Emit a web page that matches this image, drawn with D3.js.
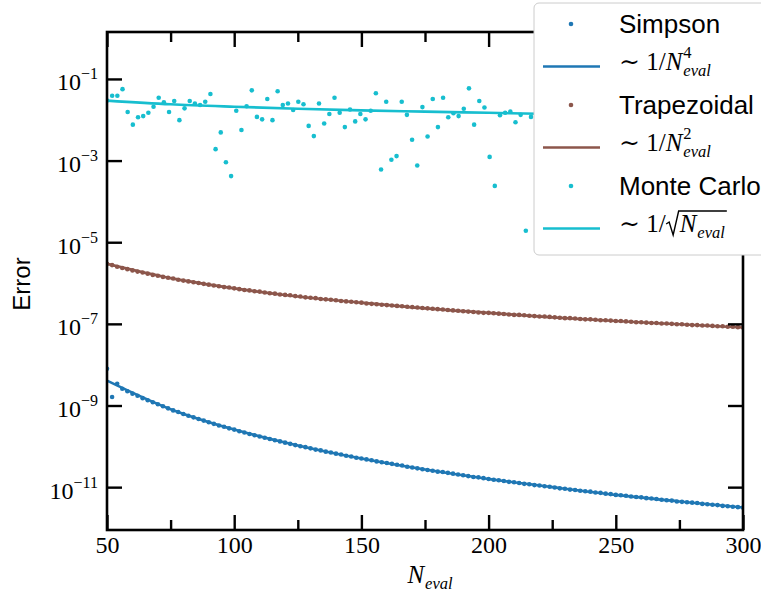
<!DOCTYPE html>
<html>
<head>
<meta charset="utf-8">
<script src="https://cdn.jsdelivr.net/npm/d3@7/dist/d3.min.js"></script>
<style>
  body { margin: 0; background: #fff; }
  .axis text { font-family: "Liberation Serif", "DejaVu Serif", serif; fill: #000; }
</style>
</head>
<body>
<svg id="chart" width="761" height="592"></svg>
<script>
// N_eval grid for the two quadrature rules (even N from 50 to 300)
var nEval = d3.range(50, 301, 2);

// log10(error)
var simpsonLogErr = [
  -8.10, -8.79, -8.47, -8.59, -8.65, -8.71, -8.76, -8.82, -8.87, -8.92,
  -8.97, -9.02, -9.07, -9.12, -9.16, -9.21, -9.25, -9.29, -9.33, -9.37,
  -9.41, -9.45, -9.49, -9.52, -9.56, -9.59, -9.63, -9.66, -9.70, -9.73,
  -9.76, -9.79, -9.82, -9.85, -9.88, -9.91, -9.94, -9.97, -10.00, -10.02,
  -10.05, -10.08, -10.10, -10.13, -10.15, -10.18, -10.20, -10.23, -10.25, -10.28,
  -10.30, -10.32, -10.34, -10.37, -10.39, -10.41, -10.43, -10.45, -10.47, -10.50,
  -10.52, -10.54, -10.56, -10.58, -10.60, -10.62, -10.63, -10.65, -10.67, -10.69,
  -10.71, -10.73, -10.75, -10.76, -10.78, -10.80, -10.82, -10.83, -10.85, -10.87,
  -10.88, -10.90, -10.92, -10.93, -10.95, -10.96, -10.98, -10.99, -11.01, -11.03,
  -11.04, -11.06, -11.07, -11.09, -11.10, -11.11, -11.13, -11.14, -11.16, -11.17,
  -11.19, -11.20, -11.21, -11.23, -11.24, -11.25, -11.27, -11.28, -11.29, -11.31,
  -11.32, -11.33, -11.35, -11.36, -11.37, -11.38, -11.39, -11.41, -11.42, -11.43,
  -11.44, -11.46, -11.47, -11.48, -11.49, -11.50
];

var trapezoidalLogErr = [
  -5.53, -5.56, -5.60, -5.63, -5.66, -5.69, -5.72, -5.74, -5.77, -5.80,
  -5.82, -5.85, -5.87, -5.89, -5.92, -5.94, -5.96, -5.98, -6.00, -6.02,
  -6.04, -6.06, -6.08, -6.10, -6.11, -6.13, -6.15, -6.17, -6.18, -6.20,
  -6.21, -6.23, -6.25, -6.26, -6.28, -6.29, -6.30, -6.32, -6.33, -6.35,
  -6.36, -6.37, -6.39, -6.40, -6.41, -6.42, -6.44, -6.45, -6.46, -6.47,
  -6.48, -6.50, -6.51, -6.52, -6.53, -6.54, -6.55, -6.56, -6.57, -6.58,
  -6.59, -6.60, -6.61, -6.62, -6.63, -6.64, -6.65, -6.66, -6.67, -6.68,
  -6.69, -6.70, -6.71, -6.72, -6.73, -6.73, -6.74, -6.75, -6.76, -6.77,
  -6.78, -6.78, -6.79, -6.80, -6.81, -6.82, -6.82, -6.83, -6.84, -6.85,
  -6.86, -6.86, -6.87, -6.88, -6.89, -6.89, -6.90, -6.91, -6.91, -6.92,
  -6.93, -6.93, -6.94, -6.95, -6.96, -6.96, -6.97, -6.98, -6.98, -6.99,
  -6.99, -7.00, -7.01, -7.01, -7.02, -7.03, -7.03, -7.04, -7.04, -7.05,
  -7.06, -7.06, -7.07, -7.07, -7.08, -7.09
];

// Monte Carlo samples (the ones not hidden behind the legend)
var mcN = d3.range(83).map(function (i) { return 50 + i * 250 / 123; });
var mcLogErr = [
  -1.53, -1.41, -1.41, -1.25, -1.81, -2.12, -1.94, -1.91, -1.83, -1.68,
  -1.46, -1.57, -1.81, -1.54, -2.01, -1.72, -1.54, -1.60, -1.64, -1.56,
  -1.37, -2.72, -2.31, -3.04, -3.38, -1.78, -2.25, -1.67, -1.28, -1.93,
  -1.99, -1.49, -2.01, -1.30, -1.64, -1.60, -1.76, -1.56, -1.62, -2.15,
  -2.40, -1.60, -2.09, -1.86, -1.46, -1.83, -2.18, -1.75, -2.04, -1.86,
  -1.99, -1.78, -1.35, -3.22, -1.56, -2.98, -2.89, -1.56, -1.88, -2.49,
  -3.12, -1.69, -2.41, -1.49, -2.18, -1.46, -1.94, -1.84, -1.91, -1.73,
  -1.23, -2.12, -1.54, -1.70, -2.91, -3.62, -1.89, -1.83, -1.80, -2.06,
  -1.88, -4.72, -1.93
];

// fitted power-law lines, read at these N
var fitN = [50, 75, 100, 125, 150, 175, 200, 225, 250, 275, 300];
var simpsonFitLog = [-8.39, -9.09, -9.59, -9.98, -10.30, -10.57, -10.80, -11.00, -11.19, -11.35, -11.50];
var trapezoidalFitLog = [-5.53, -5.88, -6.13, -6.33, -6.48, -6.62, -6.73, -6.84, -6.93, -7.01, -7.09];
var mcFitLog = [-1.53, -1.62, -1.68, -1.73, -1.77, -1.80, -1.83, -1.86, -1.88, -1.90, -1.92];

var xTicks = [50, 100, 150, 200, 250, 300];
var xMinorTicks = [75, 125, 175, 225, 275];
var yTickExp = [-1, -3, -5, -7, -9, -11];

var colors = {simpson: "#1f77b4", trap: "#8c564b", mc: "#17becf"};

(function ErrorChart() {
  var svg = d3.select("#chart");
  var pLeft = 107, pRight = 743, pTop = 32, pBottom = 530;

  var x = d3.scaleLinear().domain([50, 300]).range([pLeft, pRight]);
  var y = d3.scaleLog().domain([Math.pow(10, -12.05), Math.pow(10, 0.15)]).range([pBottom, pTop]);
  function p10(v) { return Math.pow(10, v); }

  svg.append("defs").append("clipPath").attr("id", "clip")
    .append("rect").attr("x", pLeft).attr("y", pTop)
    .attr("width", pRight - pLeft).attr("height", pBottom - pTop);

  var plot = svg.append("g").attr("clip-path", "url(#clip)");

  function dots(ns, vals, color) {
    plot.append("g").selectAll("circle")
      .data(ns.map(function (n, i) { return [n, vals[i]]; }))
      .enter().append("circle")
        .attr("cx", function (d) { return x(d[0]); })
        .attr("cy", function (d) { return y(p10(d[1])); })
        .attr("r", 2.3)
        .attr("fill", color);
  }
  var line = d3.line()
    .x(function (d) { return x(d[0]); })
    .y(function (d) { return y(p10(d[1])); })
    .curve(d3.curveMonotoneX);
  function fit(vals, color) {
    plot.append("path")
      .datum(fitN.map(function (n, i) { return [n, vals[i]]; }))
      .attr("d", line)
      .attr("fill", "none")
      .attr("stroke", color)
      .attr("stroke-width", 2.6);
  }

  dots(nEval, simpsonLogErr, colors.simpson);
  fit(simpsonFitLog, colors.simpson);
  dots(nEval, trapezoidalLogErr, colors.trap);
  fit(trapezoidalFitLog, colors.trap);
  dots(mcN, mcLogErr, colors.mc);
  fit(mcFitLog, colors.mc);

  // axes: ticks pointing in on all four sides
  var yTickVals = yTickExp.map(p10);
  function styleAxis(g) {
    g.select(".domain").remove();
    g.selectAll(".tick line").attr("stroke", "#000").attr("stroke-width", 2.4);
  }

  var gBottom = svg.append("g").attr("class", "axis")
    .attr("transform", "translate(0," + pBottom + ")")
    .call(d3.axisBottom(x).tickValues(xTicks).tickSize(-15).tickFormat(d3.format("d")));
  styleAxis(gBottom);
  gBottom.selectAll(".tick text").attr("y", 23).attr("dy", 0).style("font-size", "24px");

  svg.append("g").attr("class", "axis")
    .attr("transform", "translate(0," + pBottom + ")")
    .call(d3.axisBottom(x).tickValues(xMinorTicks).tickSize(-10).tickFormat(""))
    .call(styleAxis);

  svg.append("g").attr("class", "axis")
    .attr("transform", "translate(0," + pTop + ")")
    .call(d3.axisTop(x).tickValues(xTicks).tickSize(-15).tickFormat(""))
    .call(styleAxis);
  svg.append("g").attr("class", "axis")
    .attr("transform", "translate(0," + pTop + ")")
    .call(d3.axisTop(x).tickValues(xMinorTicks).tickSize(-10).tickFormat(""))
    .call(styleAxis);

  var gLeft = svg.append("g").attr("class", "axis")
    .attr("transform", "translate(" + pLeft + ",0)")
    .call(d3.axisLeft(y).tickValues(yTickVals).tickSize(-15).tickFormat(""));
  styleAxis(gLeft);
  gLeft.selectAll(".tick text").each(function (d, i) {
    var t = d3.select(this).attr("x", -9).attr("y", 11).attr("dy", 0)
      .attr("text-anchor", "end").text(null);
    t.append("tspan").style("font-size", "24px").text("10");
    t.append("tspan").style("font-size", "16px").attr("dy", -11)
      .text("\u2212" + Math.abs(yTickExp[i]));
  });

  svg.append("g").attr("class", "axis")
    .attr("transform", "translate(" + pRight + ",0)")
    .call(d3.axisRight(y).tickValues(yTickVals).tickSize(-15).tickFormat(""))
    .call(styleAxis);

  // frame
  svg.append("rect")
    .attr("x", pLeft).attr("y", pTop)
    .attr("width", pRight - pLeft).attr("height", pBottom - pTop)
    .attr("fill", "none").attr("stroke", "#000").attr("stroke-width", 2.6);

  // axis titles
  svg.append("text")
    .attr("transform", "translate(30,284) rotate(-90)")
    .attr("text-anchor", "middle")
    .style("font-family", "Liberation Sans, Arial, sans-serif")
    .style("font-size", "24px")
    .text("Error");

  // N with an "eval" subscript (and optional power above it)
  function nEvalLabel(g, x0, base, size, sup, anchorMid) {
    var small = size * 0.66;
    var n = g.append("text").attr("x", x0).attr("y", base)
      .style("font-family", "Liberation Serif, serif").style("font-style", "italic")
      .style("font-size", size + "px").text("N");
    var wn = n.node().getComputedTextLength();
    var sub = g.append("text").attr("x", x0 + wn + 1).attr("y", base + 6)
      .style("font-family", "Liberation Serif, serif").style("font-style", "italic")
      .style("font-size", small + "px").text("eval");
    if (sup) {
      g.append("text").attr("x", x0 + wn + 1).attr("y", base - 12)
        .style("font-family", "Liberation Serif, serif")
        .style("font-size", small + "px").text(sup);
    }
    var end = x0 + wn + 1 + sub.node().getComputedTextLength();
    if (anchorMid) {
      var shift = -(end - x0) / 2;
      g.selectAll("text").attr("transform", "translate(" + shift + ",0)");
    }
    return end;
  }

  var xTitle = svg.append("g");
  nEvalLabel(xTitle, 430, 583, 25, null, true);

  // legend
  var legend = svg.append("g");
  legend.append("rect")
    .attr("x", 534).attr("y", 3).attr("width", 250).attr("height", 252)
    .attr("rx", 5).attr("fill", "#fff").attr("stroke", "#ccc").attr("stroke-width", 1);

  var legendRows = [
    {name: "Simpson", color: colors.simpson, sup: "4", sqrt: false},
    {name: "Trapezoidal", color: colors.trap, sup: "2", sqrt: false},
    {name: "Monte Carlo", color: colors.mc, sup: null, sqrt: true}
  ];
  legendRows.forEach(function (r, i) {
    var b = 33 + i * 81;
    legend.append("circle").attr("cx", 571).attr("cy", b - 9).attr("r", 2.3).attr("fill", r.color);
    legend.append("text").attr("x", 619).attr("y", b)
      .style("font-family", "Liberation Sans, Arial, sans-serif")
      .style("font-size", "26px").text(r.name);

    var mb = b + 37;
    legend.append("line").attr("x1", 543).attr("x2", 600)
      .attr("y1", mb - 3.5).attr("y2", mb - 3.5)
      .attr("stroke", r.color).attr("stroke-width", 2.6);
    var pre = legend.append("text").attr("x", 619).attr("y", mb)
      .style("font-family", "Liberation Serif, DejaVu Serif, serif")
      .style("font-size", "25px").text("\u223C 1/");
    var xs = 619 + pre.node().getComputedTextLength();
    var g = legend.append("g");
    if (!r.sqrt) {
      nEvalLabel(g, xs, mb, 25, r.sup, false);
    } else {
      var xn = xs + 14;
      var end = nEvalLabel(g, xn, mb, 25, null, false);
      var oy = mb - 21;
      legend.append("path")
        .attr("d", "M" + (xs + 0.5) + "," + (mb - 8) + "L" + (xs + 3.5) + "," + (mb - 10) +
          "L" + (xs + 7.5) + "," + (mb + 3) + "L" + (xs + 13) + "," + oy + "L" + (end + 2) + "," + oy)
        .attr("fill", "none").attr("stroke", "#000").attr("stroke-width", 1.4);
    }
  });
})();
</script>
</body>
</html>
